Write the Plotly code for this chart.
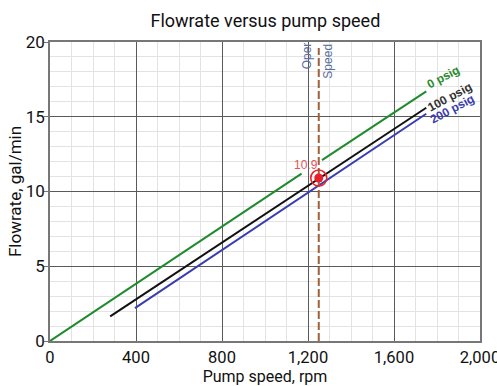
import plotly.graph_objects as go

# Data
green_x = [0, 1170, None, 1265, 1750]      # 0 psig (gap around the label)
green_y = [0, 11.2, None, 12.1, 16.7]
black_x = [280, 1750]                        # 100 psig
black_y = [1.65, 15.6]
blue_x = [395, 1750]                         # 200 psig
blue_y = [2.2, 15.2]
oper_speed = 1250
oper_top = 19.6
oper_flow = 10.9

x_ticks = [0, 400, 800, 1200, 1600, 2000]
y_ticks = [0, 5, 10, 15, 20]

FONT = "Roboto, Liberation Sans, Arial"
FONT2 = "Liberation Sans, Arial"

fig = go.Figure()
fig.add_trace(go.Scatter(x=green_x, y=green_y, mode="lines",
                         line=dict(color="#1f8a2e", width=2), connectgaps=False, hoverinfo="skip"))
fig.add_trace(go.Scatter(x=black_x, y=black_y, mode="lines",
                         line=dict(color="#111111", width=2), hoverinfo="skip"))
fig.add_trace(go.Scatter(x=blue_x, y=blue_y, mode="lines",
                         line=dict(color="#3a3db0", width=2), hoverinfo="skip"))
fig.add_trace(go.Scatter(x=[oper_speed, oper_speed], y=[0, oper_top], mode="lines",
                         line=dict(color="#a0603a", width=2, dash="8px,3px"), hoverinfo="skip"))
fig.add_trace(go.Scatter(x=[oper_speed], y=[oper_flow], mode="markers",
                         marker=dict(symbol="circle-open", size=16, color="#e8202a",
                                     line=dict(width=1.6, color="#e8202a")), hoverinfo="skip"))
fig.add_trace(go.Scatter(x=[oper_speed], y=[oper_flow], mode="markers",
                         marker=dict(symbol="circle", size=9, color="#e8202a"), hoverinfo="skip"))

ann = []
ann.append(dict(x=1190, y=11.8, text=str(oper_flow), showarrow=False,
                font=dict(color="#e8505a", size=12, family=FONT2)))
ann.append(dict(x=1196, y=19.05, text="Oper", textangle=-90, showarrow=False,
                font=dict(color="#5a6e9a", size=12, family=FONT2)))
ann.append(dict(x=1294, y=18.7, text="Speed", textangle=-90, showarrow=False,
                font=dict(color="#5a6e9a", size=12, family=FONT2)))
ann.append(dict(x=1830, y=17.65, text="<b>0 psig</b>", textangle=-28, showarrow=False,
                font=dict(color="#2a8a2e", size=12, family=FONT2)))
ann.append(dict(x=1860, y=16.3, text="<b>100 psig</b>", textangle=-28, showarrow=False,
                font=dict(color="#333333", size=12, family=FONT2)))
ann.append(dict(x=1870, y=15.55, text="<b>200 psig</b>", textangle=-28, showarrow=False,
                font=dict(color="#3a3db0", size=12, family=FONT2)))

fig.update_layout(
    width=497, height=386,
    margin=dict(l=50, r=17, t=42, b=45),
    paper_bgcolor="white", plot_bgcolor="white",
    showlegend=False,
    title=dict(text="Flowrate versus pump speed", x=0.534, xanchor="center", y=0.946, yanchor="middle",
               font=dict(size=18, color="#111111", family=FONT)),
    annotations=ann,
    font=dict(family=FONT, color="#111111"),
)
fig.update_xaxes(
    range=[0, 2000], tickvals=x_ticks, tickformat=",", tickfont=dict(size=16.5),
    ticklabeloverflow="allow",
    title=dict(text="Pump speed, rpm", font=dict(size=16), standoff=0),
    automargin=False,
    showgrid=True, gridcolor="#5a5a5a", gridwidth=1.3,
    minor=dict(dtick=100, showgrid=True, gridcolor="#e3e3e3", gridwidth=1),
    showline=True, linecolor="#777777", linewidth=1.5, mirror=True,
    ticks="", zeroline=False,
)
fig.update_yaxes(
    range=[0, 20], tickvals=y_ticks, tickfont=dict(size=17),
    ticklabelstandoff=-4,
    title=dict(text="Flowrate, gal/min", font=dict(size=17), standoff=0),
    automargin=False,
    showgrid=True, gridcolor="#5a5a5a", gridwidth=1.3,
    minor=dict(dtick=1, showgrid=True, gridcolor="#e3e3e3", gridwidth=1),
    showline=True, linecolor="#777777", linewidth=1.5, mirror=True,
    ticks="outside", ticklen=4, tickcolor="#777777", zeroline=False,
)

fig.write_html("out.html", config={"displayModeBar": False},
               post_script="document.body.style.margin='0';")
